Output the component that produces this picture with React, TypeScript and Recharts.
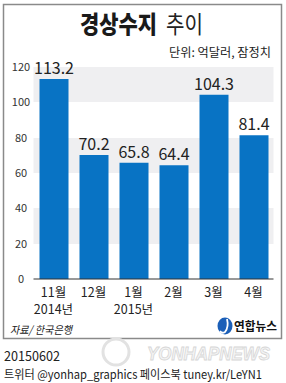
import { Bar, BarChart, CartesianGrid, LabelList, XAxis, YAxis } from "recharts";

const months = ["11월", "12월", "1월", "2월", "3월", "4월"];
const years = ["2014년", "", "2015년", "", "", ""];
const balance = [113.2, 70.2, 65.8, 64.4, 104.3, 81.4];
const yTicks = [0, 20, 40, 60, 80, 100, 120];

const data = months.map((month, i) => ({ month, year: years[i], value: balance[i] }));

const narrow = "'Liberation Sans Narrow', 'Noto Sans CJK KR', sans-serif";
const kr = "'Noto Sans CJK KR', sans-serif";

function MonthTick(props: any) {
  const { x, y, index } = props;
  return (
    <g>
      <text x={x} y={y + 9.5} textAnchor="middle" fontFamily={narrow} fontSize={12.5} fill="#222">
        {months[index]}
      </text>
      {years[index] && (
        <text x={x} y={y + 27} textAnchor="middle" fontFamily={narrow} fontSize={12.5} fill="#222">
          {years[index]}
        </text>
      )}
    </g>
  );
}

function ValueTick(props: any) {
  const { y, payload } = props;
  return (
    <text x={21} y={y + 4} textAnchor="middle" fontFamily={narrow} fontSize={11} fill="#333">
      {payload.value}
    </text>
  );
}

export default function App() {
  return (
    <div style={{ position: "absolute", left: 0, top: 0, width: 286, height: 383, background: "#fff" }}>
      <BarChart
        width={286}
        height={383}
        data={data}
        margin={{ top: 67, right: 12.5, bottom: 64, left: 5.5 }}
        barSize={29}
      >
        <CartesianGrid vertical={false} stroke="none" horizontalFill={["#efeff1", "#ffffff"]} />
        <XAxis
          dataKey="month"
          height={40}
          tickLine={false}
          axisLine={{ stroke: "#333", strokeWidth: 1 }}
          tick={<MonthTick />}
          interval={0}
        />
        <YAxis
          width={28}
          domain={[0, 120]}
          ticks={yTicks}
          tickLine={false}
          axisLine={false}
          tick={<ValueTick />}
        />
        <Bar dataKey="value" fill="#0873c4" isAnimationActive={false}>
          <LabelList dataKey="value" position="top" offset={5} fontFamily={narrow} fontSize={16} fill="#222" />
        </Bar>
      </BarChart>
      <svg
        width={286}
        height={383}
        style={{ position: "absolute", left: 0, top: 0, pointerEvents: "none" }}
      >
        <rect x={3.5} y={4.5} width={278} height={334} fill="none" stroke="#8a8a8a" strokeWidth={1.5} />
        <text x={80} y={33} fontFamily={kr} fontSize={24} fontWeight={900} fill="#1a1a1a" textLength={77} lengthAdjust="spacingAndGlyphs">
          경상수지
        </text>
        <text x={166} y={33} fontFamily={kr} fontSize={24} fontWeight={400} fill="#222" textLength={37} lengthAdjust="spacingAndGlyphs">
          추이
        </text>
        <text x={271} y={57} textAnchor="end" fontFamily={kr} fontSize={12} fill="#222" textLength={102} lengthAdjust="spacingAndGlyphs">
          단위: 억달러, 잠정치
        </text>
        <text x={10} y={334} fontFamily={kr} fontSize={11} fontStyle="italic" fill="#222" textLength={62} lengthAdjust="spacingAndGlyphs">
          자료/ 한국은행
        </text>
        <ellipse cx={225} cy={326} rx={7.5} ry={8.5} fill="#1b5fb8" />
        <path d="M227 319 Q229 327 225 332 Q222 334 220 331" fill="none" stroke="#fff" strokeWidth={1.8} />
        <text x={234} y={331} fontFamily={kr} fontSize={12} fontWeight={700} fill="#111" textLength={43} lengthAdjust="spacingAndGlyphs">
          연합뉴스
        </text>
        <ellipse cx={116} cy={352} rx={13} ry={13} fill="none" stroke="#e2e2e2" strokeWidth={3} />
        <text x={147} y={360} fontFamily="'Liberation Sans', sans-serif" fontSize={18} fontWeight={700} fontStyle="italic" fill="#f4f4f4" stroke="#d6d6d6" strokeWidth={0.8} textLength={123} lengthAdjust="spacingAndGlyphs">
          YONHAPNEWS
        </text>
        <text x={4} y={361} fontFamily={narrow} fontSize={14} fill="#222" textLength={56} lengthAdjust="spacingAndGlyphs">
          20150602
        </text>
        <text x={4} y={378.5} fontFamily={narrow} fontSize={12} fill="#222" textLength={258} lengthAdjust="spacingAndGlyphs">
          트위터 @yonhap_graphics 페이스북 tuney.kr/LeYN1
        </text>
      </svg>
    </div>
  );
}
